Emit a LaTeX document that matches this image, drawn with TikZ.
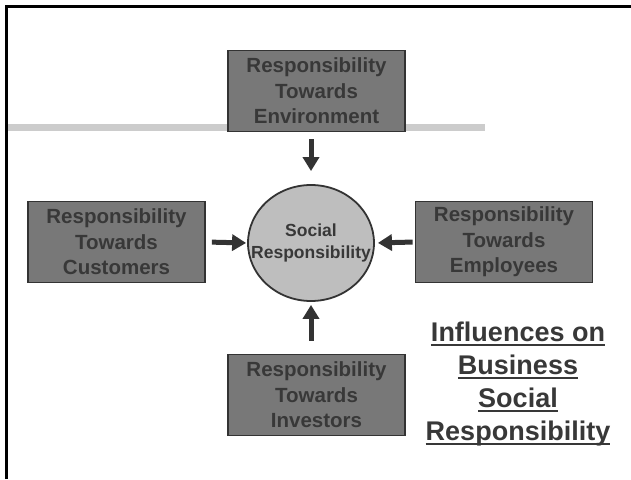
\documentclass[tikz,border=0pt]{standalone}
\usepackage{fontspec}
\setmainfont{Liberation Sans}
\usetikzlibrary{arrows.meta,shapes.geometric}
\definecolor{boxfill}{HTML}{787878}
\definecolor{boxline}{HTML}{333333}
\definecolor{txt}{HTML}{383838}
\definecolor{ellfill}{HTML}{BEBEBE}
\definecolor{barcol}{HTML}{CCCCCC}
\newcommand\ulx[1]{\begingroup\setbox0\hbox{#1}\rlap{\rule[-4.5pt]{\wd0}{2.2pt}}\box0\endgroup}
\begin{document}
\begin{tikzpicture}[x=1pt,y=-1pt,
  rbox/.style={draw=boxline,line width=1.8pt,fill=boxfill,minimum width=177pt,minimum height=81pt,
    inner sep=0pt,align=center,text=txt,font=\fontsize{20.5}{25.5}\selectfont\bfseries},
  soc/.style={ellipse,draw=boxline,line width=1.8pt,fill=ellfill,minimum width=126pt,minimum height=116pt,
    inner xsep=-16pt,inner ysep=0pt,align=center,text=txt,font=\fontsize{17.5}{22}\selectfont\bfseries},
  arr/.style={draw=boxline,line width=5pt,-{Triangle[length=14pt,width=16pt]}}]
\useasboundingbox (0,0) rectangle (631,479);
% frame
\draw[line width=3pt,black] (6,479) -- (6,6) -- (631,6);
% grey bar
\fill[barcol] (7.5,124) rectangle (485,131);
% nodes
\node[rbox] (env) at (316.5,91) {Responsibility\\Towards\\Environment};
\node[rbox] (cust) at (116.5,242) {Responsibility\\Towards\\Customers};
\node[rbox] (emp) at (504,242) {Responsibility\\Towards\\Employees};
\node[rbox] (inv) at (316.5,395) {Responsibility\\Towards\\Investors};
\node[soc] (sr) at (311,243) {Social\\Responsibility};
\node[align=center,text=txt,font=\fontsize{27}{33}\selectfont\bfseries] (title) at (518,384)
  {\ulx{Influences on}\\\ulx{Business}\\\ulx{Social}\\\ulx{Responsibility}};
% arrows
\draw[arr,shorten <=7pt,shorten >=13pt] (env.south -| sr.north) -- (sr.north);
\draw[arr,shorten <=6pt,shorten >=1pt] (cust.east) -- (sr.west);
\draw[arr,shorten <=2pt,shorten >=3pt] (emp.west) -- (sr.east);
\draw[arr,shorten <=13pt,shorten >=3pt] (inv.north -| sr.south) -- (sr.south);
\end{tikzpicture}
\end{document}
